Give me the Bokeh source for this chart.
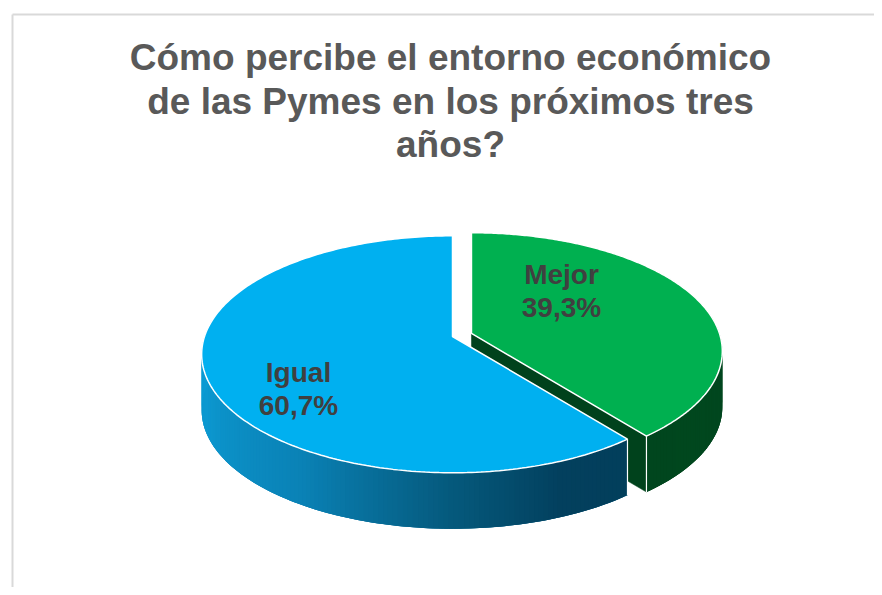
import numpy as np
from bokeh.plotting import figure
from bokeh.models import Range1d
from bokeh.core.properties import value
from bokeh.embed import file_html
from bokeh.resources import INLINE

# ---------------- data ----------------
title_lines = ["Cómo percibe el entorno económico",
               "de las Pymes en los próximos tres",
               "años?"]
categories = ["Mejor", "Igual"]
shares = [39.3, 60.7]

# ---------------- style / layout ----------------
explode = [0.081, 0.0]
top_colors = ["#00B050", "#00B0F0"]
cut_colors = ["#00421C", "#003F5C"]
wall_stops = [
    [(80, (0, 72, 31)), (150, (0, 70, 30))],
    [(135, (2, 62, 90)), (158, (3, 64, 94)), (180, (5, 89, 124)),
     (212, (10, 130, 182)), (250, (12, 152, 208)), (290, (12, 158, 214))],
]
label_pos = [(0.363, -0.371), (-0.621, 0.449)]   # normalized offsets from slice centre

CX, CY = 452.0, 336.0      # pie centre (window px)
RX, RY = 248.0, 115.8      # radii of the top face
K = 0.15                   # perspective factor
DEPTH = 56.0

W, H = 874, 587
p = figure(width=W, height=H, x_range=Range1d(0, W), y_range=Range1d(H, 0),
           output_backend="svg", toolbar_location=None, min_border=0,
           x_axis_location=None, y_axis_location=None)
p.grid.visible = False
p.outline_line_color = None
p.background_fill_color = "white"
p.border_fill_color = "white"

# chart-area frame
p.line(x=[12, 12], y=[600, 14], line_color="#D9D9D9", line_width=2)
p.line(x=[12, 900], y=[14, 14], line_color="#D9D9D9", line_width=2)

# title
p.text(x=[450] * 3, y=[57, 100.5, 144], text=title_lines,
       text_font=value("Liberation Sans"), text_font_style="bold",
       text_font_size=value("37px"), text_color="#595959",
       text_align="center", text_baseline="alphabetic")


def proj(theta, r, ox, oy):
    s, c = np.sin(theta), np.cos(theta)
    d = 1 + K * r * c
    return CX + ox + r * RX * s / d, CY + oy - r * RY * c / d


def lerp_color(stops, deg):
    if deg <= stops[0][0]:
        c = stops[0][1]
    elif deg >= stops[-1][0]:
        c = stops[-1][1]
    else:
        for (d0, c0), (d1, c1) in zip(stops[:-1], stops[1:]):
            if d0 <= deg <= d1:
                t = (deg - d0) / (d1 - d0)
                c = tuple(int(round(a + (b - a) * t)) for a, b in zip(c0, c1))
                break
    return "#%02x%02x%02x" % c


total = sum(shares)
angles = np.cumsum([0] + [v / total * 2 * np.pi for v in shares])
slices = []
for i, v in enumerate(shares):
    a0, a1 = angles[i], angles[i + 1]
    b = (a0 + a1) / 2
    ox = explode[i] * RX * np.sin(b)
    oy = -explode[i] * RY * np.cos(b)
    slices.append((a0, a1, ox, oy))

FRONT0, FRONT1 = np.pi / 2 - 0.2, 3 * np.pi / 2 + 0.2

# cut faces that face the viewer
for i, (a0, a1, ox, oy) in enumerate(slices):
    for a, nrm in ((a0, a0 - np.pi / 2), (a1, a1 + np.pi / 2)):
        if np.cos(nrm) < -0.05:
            cx0, cy0 = CX + ox, CY + oy
            rx_, ry_ = proj(a, 1.0, ox, oy)
            p.patch(x=[cx0, rx_, rx_, cx0], y=[cy0, ry_, ry_ + DEPTH, cy0 + DEPTH],
                    fill_color=cut_colors[i], line_color=cut_colors[i], line_width=0.5)

# outer walls (gradient strips over a base polygon)
for i, (a0, a1, ox, oy) in enumerate(slices):
    lo, hi = max(a0, FRONT0), min(a1, FRONT1)
    if hi <= lo:
        continue
    n = max(2, int((hi - lo) / np.radians(1.0)))
    ts = np.linspace(lo, hi, n + 1)
    bx, by = proj(ts, 1.0, ox, oy)
    base_col = lerp_color(wall_stops[i], np.degrees((lo + hi) / 2))
    p.patch(x=list(bx) + list(bx[::-1]), y=list(by) + list(by[::-1] + DEPTH),
            fill_color=base_col, line_color=None)
    xs, ys, cols = [], [], []
    for j in range(n):
        t0 = ts[j]
        t1 = ts[min(j + 2, n)]
        x0, y0 = proj(t0, 1.0, ox, oy)
        x1, y1 = proj(t1, 1.0, ox, oy)
        xs.append([x0, x1, x1, x0])
        ys.append([y0, y1, y1 + DEPTH, y0 + DEPTH])
        cols.append(lerp_color(wall_stops[i], np.degrees((ts[j] + ts[j + 1]) / 2)))
    p.patches(xs=xs, ys=ys, fill_color=cols, line_color=None)
    for a in (a0, a1):
        if FRONT0 + 0.2 < a < FRONT1 - 0.2:
            ex, ey = proj(a, 1.0, ox, oy)
            p.segment(x0=[ex], y0=[ey], x1=[ex], y1=[ey + DEPTH],
                      line_color="white", line_width=1.2)

# top faces
for i, (a0, a1, ox, oy) in enumerate(slices):
    ts = np.linspace(a0, a1, 240)
    ax, ay = proj(ts, 1.0, ox, oy)
    xs = [CX + ox] + list(ax) + [CX + ox]
    ys = [CY + oy] + list(ay) + [CY + oy]
    p.patch(x=xs, y=ys, fill_color=top_colors[i], line_color="white", line_width=1.5)

# labels
for i, (a0, a1, ox, oy) in enumerate(slices):
    lx = CX + ox + label_pos[i][0] * RX
    ly = CY + oy + label_pos[i][1] * RY
    pct = ("%.1f" % shares[i]).replace(".", ",") + "%"
    p.text(x=[lx, lx], y=[ly - 15.5, ly + 17.5], text=[categories[i], pct],
           text_font=value("Liberation Sans"), text_font_style="bold",
           text_font_size=value("28px"), text_color="#404040",
           text_align="center", text_baseline="alphabetic")

open("out.html", "w").write(file_html(p, INLINE))
